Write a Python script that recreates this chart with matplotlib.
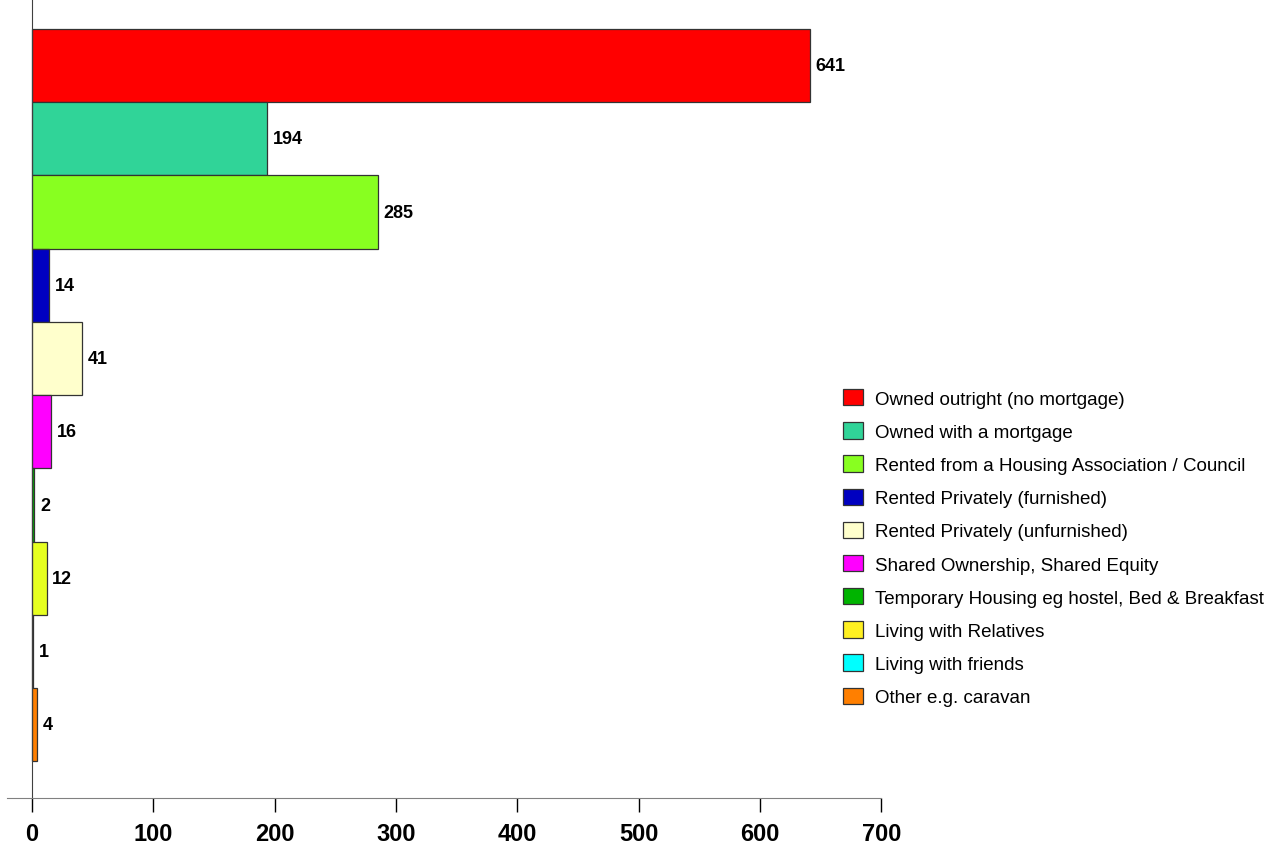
import matplotlib
matplotlib.use('Agg')
import matplotlib.pyplot as plt
from matplotlib.patches import Patch

plt.rcParams['font.family'] = ['Liberation Sans', 'DejaVu Sans']

# data
categories = [
    'Owned outright (no mortgage)',
    'Owned with a mortgage',
    'Rented from a Housing Association / Council',
    'Rented Privately (furnished)',
    'Rented Privately (unfurnished)',
    'Shared Ownership, Shared Equity',
    'Temporary Housing eg hostel, Bed & Breakfast',
    'Living with Relatives',
    'Living with friends',
    'Other e.g. caravan',
]
counts = [641, 194, 285, 14, 41, 16, 2, 12, 1, 4]
bar_colors = ['#FF0000', '#30D498', '#88FF20', '#0000C0', '#FFFFCC',
              '#FF00FF', '#00B400', '#E6FF20', '#00FFFF', '#FF7F00']
legend_colors = ['#FF0000', '#30D498', '#88FF20', '#0000C0', '#FFFFCC',
                 '#FF00FF', '#00B400', '#FFF020', '#00FFFF', '#FF7F00']
xticks = [0, 100, 200, 300, 400, 500, 600, 700]

fig = plt.figure(figsize=(12.74, 8.45), dpi=100)
ax = fig.add_axes([7 / 1274, 46 / 845, (881.5 - 7) / 1274, 799 / 845])

pos = list(range(len(counts)))
bars = ax.barh(pos, counts, height=1.0, color=bar_colors,
               edgecolor='#333333', linewidth=0.9)
ax.bar_label(bars, labels=[str(c) for c in counts], padding=4,
             fontsize=13, fontweight='bold')

ax.set_ylim(10.0, -0.91)
ax.set_xlim(-20.6, 700)

ax.spines['top'].set_visible(False)
ax.spines['right'].set_visible(False)
ax.spines['left'].set_position(('data', 0))
ax.spines['left'].set_color('#404040')
ax.spines['bottom'].set_color('#808080')
ax.set_yticks([])
ax.set_xticks(xticks)
ax.set_xticklabels([str(t) for t in xticks], fontsize=17, fontweight='bold')
ax.tick_params(axis='x', direction='out', length=10, width=1, color='black', pad=7)

handles = [Patch(facecolor=c, edgecolor='#333333', linewidth=0.9) for c in legend_colors]
fig.legend(handles, categories, loc='upper left',
           bbox_to_anchor=(843 / 1274, 1 - 390 / 845),
           frameon=False, fontsize=13.5, handlelength=1.07, handleheight=0.97,
           handletextpad=0.62, labelspacing=0.775, borderpad=0, borderaxespad=0)

fig.savefig('out.png', dpi=100)
